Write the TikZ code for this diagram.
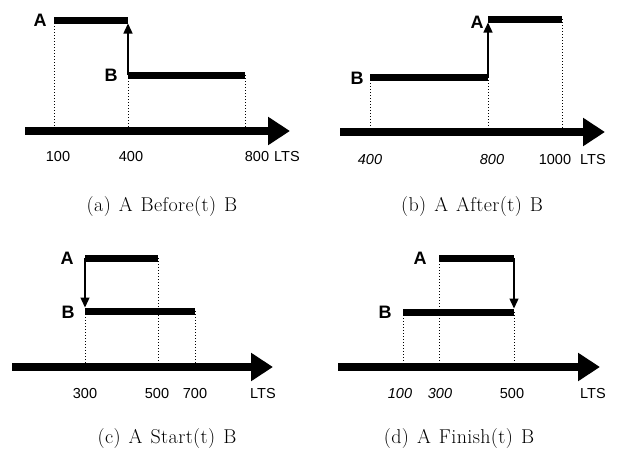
\documentclass[tikz,border=0pt]{standalone}
\usepackage{fontspec}
\newfontfamily\labelfont{Liberation Sans}
\newfontfamily\capfamily[LetterSpace=2]{Latin Modern Roman}
\newcommand\capfont{\capfamily\fontsize{20}{20}\selectfont\spaceskip 8pt\relax}
\usetikzlibrary{arrows.meta}
\begin{document}
\begin{tikzpicture}[x=1pt,y=-1pt,
        bar/.style={% For the time intervals
            line width=7pt,
            },
        timeline/.style={% For the LTS axis
            line width=8.5pt,
            -{Triangle[length=22pt,width=27pt]},
            },
        order/.style={% For the arrow from one interval to the other
            line width=1.3pt,
            shorten >=3.5pt,
            -{Triangle[length=10pt,width=9pt]},
            },
        guide/.style={% Dotted drop lines
            dotted,
            line width=1pt,
            },
        ivtag/.style={font=\labelfont\bfseries\fontsize{18}{18}\selectfont},
        ltsval/.style={font=\labelfont\fontsize{14.5}{14.5}\selectfont},
        ltsvalsl/.style={font=\labelfont\itshape\fontsize{14.5}{14.5}\selectfont},
        subcap/.style={font=\capfont},
        ]
  \useasboundingbox (0,0) rectangle (619,455);
  % (a) A Before(t) B
  \coordinate (aA1) at (54,20);  \coordinate (aA2) at (128,20);
  \coordinate (aB1) at (128,75); \coordinate (aB2) at (245,75);
  \coordinate (aL) at (25,131);  \coordinate (aR) at (290,131);
  \foreach \P in {aA1,aB1,aB2} \draw[guide] (\P) -- (\P |- aL);
  \draw[bar] (aA1) -- (aA2);
  \draw[bar] (aB1) -- (aB2);
  \draw[order] (aB1) -- (aA2);
  \draw[timeline] (aL) -- (aR);
  \node[ivtag] (aA) at (40,20) {A};
  \node[ivtag] (aB) at (111,75) {B};
  \foreach \v/\x in {100/58,400/131,800/257} \node[ltsval] (a\v) at (\x,157) {\v};
  \node[ltsval] (aLTS) at (287,157) {LTS};
  \node[subcap] (acap) at (162,207) {(a) A Before(t) B};
  % (b) A After(t) B
  \coordinate (bA1) at (488,19); \coordinate (bA2) at (562,19);
  \coordinate (bB1) at (370,77); \coordinate (bB2) at (488,77);
  \coordinate (bL) at (340,132); \coordinate (bR) at (605,132);
  \foreach \P in {bB1,bB2,bA2} \draw[guide] (\P) -- (\P |- bL);
  \draw[bar] (bA1) -- (bA2);
  \draw[bar] (bB1) -- (bB2);
  \draw[order] (bB2) -- (bA1);
  \draw[timeline] (bL) -- (bR);
  \node[ivtag] (bA) at (477,22) {A};
  \node[ivtag] (bB) at (357,78) {B};
  \foreach \v/\x in {400/370,800/492} \node[ltsvalsl] (b\v) at (\x,160) {\v};
  \node[ltsval] (b1000) at (555,160) {1000};
  \node[ltsval] (bLTS) at (593,160) {LTS};
  \node[subcap] (bcap) at (472,207) {(b) A After(t) B};
  % (c) A Start(t) B
  \coordinate (cA1) at (85,258);  \coordinate (cA2) at (158,258);
  \coordinate (cB1) at (85,311);  \coordinate (cB2) at (195,311);
  \coordinate (cL) at (12,367);   \coordinate (cR) at (273,367);
  \foreach \P in {cB1,cA2,cB2} \draw[guide] (\P) -- (\P |- cL);
  \draw[bar] (cA1) -- (cA2);
  \draw[bar] (cB1) -- (cB2);
  \draw[order] (cA1) -- (cB1);
  \draw[timeline] (cL) -- (cR);
  \node[ivtag] (cA) at (67,258) {A};
  \node[ivtag] (cB) at (68,312) {B};
  \foreach \v/\x in {300/85,500/157,700/195} \node[ltsval] (c\v) at (\x,394) {\v};
  \node[ltsval] (cLTS) at (263,394) {LTS};
  \node[subcap] (ccap) at (167,439) {(c) A Start(t) B};
  % (d) A Finish(t) B
  \coordinate (dA1) at (439,258); \coordinate (dA2) at (514,258);
  \coordinate (dB1) at (403,312); \coordinate (dB2) at (514,312);
  \coordinate (dL) at (338,367);  \coordinate (dR) at (600,367);
  \foreach \P in {dB1,dA1,dB2} \draw[guide] (\P) -- (\P |- dL);
  \draw[bar] (dA1) -- (dA2);
  \draw[bar] (dB1) -- (dB2);
  \draw[order] (dA2) -- (dB2);
  \draw[timeline] (dL) -- (dR);
  \node[ivtag] (dA) at (420,258) {A};
  \node[ivtag] (dB) at (385,312) {B};
  \foreach \v/\x in {100/400,300/440} \node[ltsvalsl] (d\v) at (\x,394) {\v};
  \node[ltsval] (d500) at (512,394) {500};
  \node[ltsval] (dLTS) at (593,394) {LTS};
  \node[subcap] (dcap) at (459,439) {(d) A Finish(t) B};
\end{tikzpicture}
\end{document}
